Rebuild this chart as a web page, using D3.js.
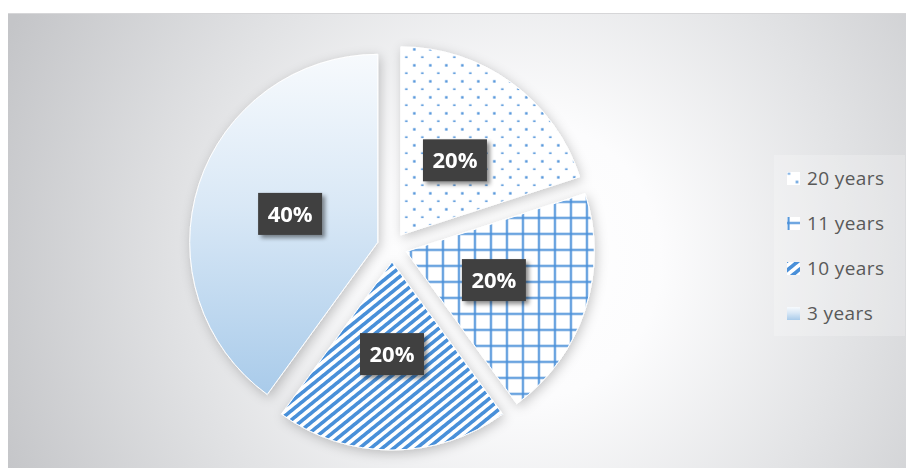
<!DOCTYPE html>
<html>
<head>
<meta charset="utf-8">
<script src="https://cdn.jsdelivr.net/npm/d3@7"></script>
<style>
  html, body { margin: 0; padding: 0; background: #ffffff; }
  svg { display: block; }
</style>
</head>
<body>
<svg id="chart" width="906" height="468"></svg>
<script>
// Share of respondents by length of service
const categories = ["20 years", "11 years", "10 years", "3 years"];
const shares = [20, 20, 20, 40];
const percentLabels = ["20%", "20%", "20%", "40%"];
const fillIds = ["fill-dots", "fill-grid", "fill-stripes", "fill-gradient"];
const legendFillIds = ["leg-dots", "leg-grid", "fill-stripes", "fill-gradient"];

const W = 906, H = 468;
const cx = 392, cy = 247, radius = 188, explode = 15;
const blue = "#4a90d9";

const svg = d3.select("#chart");
const defs = svg.append("defs");

// ---- background gradient ----
const bg = defs.append("radialGradient")
  .attr("id", "bg-grad").attr("gradientUnits", "userSpaceOnUse")
  .attr("cx", 520).attr("cy", 260).attr("r", 560);
[[0, "#ffffff"], [0.25, "#fcfcfd"], [0.6, "#e2e3e5"], [1, "#c4c5c8"]]
  .forEach(([o, c]) => bg.append("stop").attr("offset", o).attr("stop-color", c));

// ---- slice fills ----
function dotPattern(id, x, y) {
  const p = defs.append("pattern").attr("id", id)
    .attr("patternUnits", "userSpaceOnUse").attr("x", x).attr("y", y)
    .attr("width", 16).attr("height", 16);
  p.append("rect").attr("width", 16).attr("height", 16).attr("fill", "#ffffff");
  p.append("rect").attr("x", 12.3).attr("y", 5.3).attr("width", 2.4).attr("height", 2.4).attr("fill", blue);
  p.append("rect").attr("x", 4.3).attr("y", 13.5).attr("width", 2.4).attr("height", 1.6).attr("fill", blue);
}
function gridPattern(id, x, y) {
  const p = defs.append("pattern").attr("id", id)
    .attr("patternUnits", "userSpaceOnUse").attr("x", x).attr("y", y)
    .attr("width", 16).attr("height", 16);
  p.append("rect").attr("width", 16).attr("height", 16).attr("fill", "#ffffff");
  p.append("rect").attr("x", 3.7).attr("y", 0).attr("width", 2).attr("height", 16).attr("fill", blue);
  p.append("rect").attr("x", 0).attr("y", 13.3).attr("width", 16).attr("height", 2).attr("fill", blue);
}
dotPattern("fill-dots", 0, 0);
gridPattern("fill-grid", 0, 0);
dotPattern("leg-dots", -3.5, -18.5);
gridPattern("leg-grid", -3.2, -14.3);

// upward diagonal stripes
const pStripe = defs.append("pattern").attr("id", "fill-stripes")
  .attr("patternUnits", "userSpaceOnUse").attr("width", 7.2).attr("height", 20)
  .attr("patternTransform", "rotate(51)");
pStripe.append("rect").attr("width", 7.2).attr("height", 20).attr("fill", "#ffffff");
pStripe.append("rect").attr("x", 0).attr("width", 3.6).attr("height", 20).attr("fill", blue);

// soft blue vertical gradient
const gFill = defs.append("linearGradient").attr("id", "fill-gradient")
  .attr("x1", 0).attr("y1", 0).attr("x2", 0).attr("y2", 1);
[[0, "#f7fafd"], [0.45, "#d9e8f6"], [1, "#a9cbea"]]
  .forEach(([o, c]) => gFill.append("stop").attr("offset", o).attr("stop-color", c));

// ---- shadows ----
const fPie = defs.append("filter").attr("id", "pie-shadow")
  .attr("x", "-20%").attr("y", "-20%").attr("width", "140%").attr("height", "140%");
fPie.append("feDropShadow").attr("dx", 2).attr("dy", 3).attr("stdDeviation", 6)
  .attr("flood-color", "#000000").attr("flood-opacity", 0.22);

const fLbl = defs.append("filter").attr("id", "label-shadow")
  .attr("x", "-30%").attr("y", "-30%").attr("width", "170%").attr("height", "170%");
fLbl.append("feDropShadow").attr("dx", 3).attr("dy", 3).attr("stdDeviation", 2)
  .attr("flood-color", "#000000").attr("flood-opacity", 0.45);

// ---- chart area ----
svg.append("rect").attr("x", 8).attr("y", 14).attr("width", W - 8).attr("height", H - 14)
  .attr("fill", "url(#bg-grad)");
svg.append("line").attr("x1", 8).attr("x2", W).attr("y1", 13.5).attr("y2", 13.5)
  .attr("stroke", "#d6d6d8").attr("stroke-width", 1);

// ---- pie ----
const pie = d3.pie().sort(null).value(d => d);
const arcs = pie(shares);
const arc = d3.arc().innerRadius(0).outerRadius(radius);
const labelArc = d3.arc().innerRadius(0).outerRadius(radius * 0.98);

const offset = d => {
  const a = (d.startAngle + d.endAngle) / 2;
  return [Math.sin(a) * explode, -Math.cos(a) * explode];
};

const pieG = svg.append("g").attr("transform", `translate(${cx},${cy})`);

pieG.append("g").attr("filter", "url(#pie-shadow)")
  .selectAll("path").data(arcs).join("path")
  .attr("transform", d => `translate(${offset(d)})`)
  .attr("d", arc)
  .attr("fill", (d, i) => `url(#${fillIds[i]})`)
  .attr("stroke", "#ffffff").attr("stroke-width", 1);

// ---- data labels ----
const lbl = pieG.append("g").selectAll("g").data(arcs).join("g")
  .attr("transform", d => {
    const [ox, oy] = offset(d);
    const [lx, ly] = labelArc.centroid(d);
    return `translate(${lx + ox},${ly + oy})`;
  });
lbl.append("rect").attr("x", -32).attr("y", -21).attr("width", 64).attr("height", 42)
  .attr("fill", "#404040").attr("filter", "url(#label-shadow)");
lbl.append("text")
  .attr("text-anchor", "middle").attr("dy", "0.36em")
  .attr("font-family", "'Open Sans', sans-serif").attr("font-weight", 700)
  .attr("font-size", 22).attr("fill", "#ffffff")
  .text((d, i) => percentLabels[i]);

// ---- legend ----
const legendTop = 178, legendStep = 45;
svg.append("rect").attr("x", 774).attr("y", 155).attr("width", 131).attr("height", 181)
  .attr("fill", "#ffffff").attr("opacity", 0.22);
const leg = svg.append("g").selectAll("g").data(categories).join("g")
  .attr("transform", (d, i) => `translate(787,${legendTop + i * legendStep})`);
leg.append("rect").attr("x", 0).attr("y", -6).attr("width", 13).attr("height", 13)
  .attr("fill", (d, i) => `url(#${legendFillIds[i]})`);
leg.append("text").attr("x", 20).attr("dy", "0.36em")
  .attr("font-family", "'Open Sans', sans-serif").attr("font-size", 19)
  .attr("letter-spacing", 0.4)
  .attr("fill", "#595959")
  .text(d => d);
</script>
</body>
</html>
